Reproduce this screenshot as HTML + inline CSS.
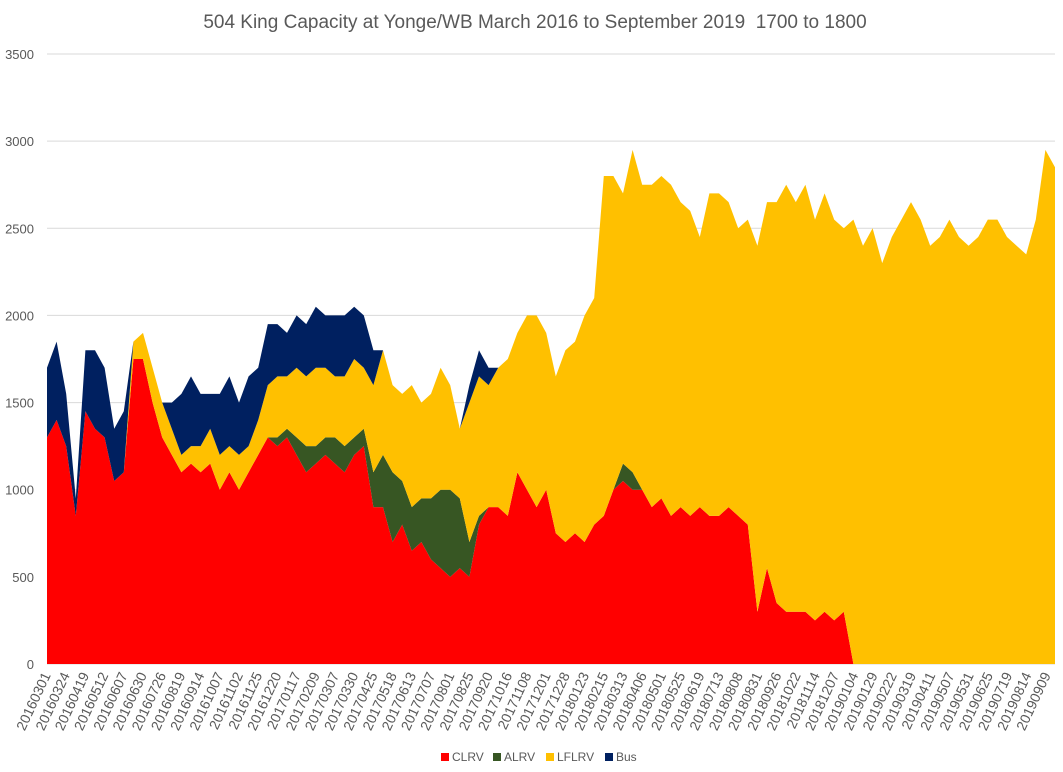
<!DOCTYPE html>
<html><head><meta charset="utf-8"><style>
body{margin:0;background:#fff;font-family:"Liberation Sans",Calibri,sans-serif}
svg{display:block}
</style></head><body>
<svg id="chart" width="1063" height="772" xmlns="http://www.w3.org/2000/svg">
<text x="535" y="28" text-anchor="middle" font-size="19" fill="#595959" font-family="Liberation Sans, sans-serif" xml:space="preserve">504 King Capacity at Yonge/WB March 2016 to September 2019  1700 to 1800</text>
<g id="grid"></g><g id="areas"></g><g id="yaxis"></g><g id="xaxis"></g>
<g font-size="12" fill="#595959" font-family="Liberation Sans, sans-serif">
<rect x="441" y="753" width="8" height="8" fill="#ff0000"/><text x="452" y="761">CLRV</text>
<rect x="493" y="753" width="8" height="8" fill="#375623"/><text x="504" y="761">ALRV</text>
<rect x="546" y="753" width="8" height="8" fill="#ffc000"/><text x="557" y="761">LFLRV</text>
<rect x="605" y="753" width="8" height="8" fill="#002060"/><text x="616" y="761">Bus</text>
</g>
</svg>
<script>
const yTicks=[0,500,1000,1500,2000,2500,3000,3500];
const xLabels=["20160301","20160324","20160419","20160512","20160607","20160630","20160726","20160819","20160914","20161007","20161102","20161125","20161220","20170117","20170209","20170307","20170330","20170425","20170518","20170613","20170707","20170801","20170825","20170920","20171016","20171108","20171201","20171228","20180123","20180215","20180313","20180406","20180501","20180525","20180619","20180713","20180808","20180831","20180926","20181022","20181114","20181207","20190104","20190129","20190222","20190319","20190411","20190507","20190531","20190625","20190719","20190814","20190909"];
const clrv=[1300,1400,1250,850,1450,1350,1300,1050,1100,1750,1750,1500,1300,1200,1100,1150,1100,1150,1000,1100,1000,1100,1200,1300,1250,1300,1200,1100,1150,1200,1150,1100,1200,1250,900,900,700,800,650,700,600,550,500,550,500,800,900,900,850,1100,1000,900,1000,750,700,750,700,800,850,1000,1050,1000,1000,900,950,850,900,850,900,850,850,900,850,800,300,550,350,300,300,300,250,300,250,300,0,0,0,0,0,0,0,0,0,0,0,0,0,0,0,0,0,0,0,0,0,0];
const alrv=[0,0,0,0,0,0,0,0,0,0,0,0,0,0,0,0,0,0,0,0,0,0,0,0,50,50,100,150,100,100,150,150,100,100,200,300,400,250,250,250,350,450,500,400,200,50,0,0,0,0,0,0,0,0,0,0,0,0,0,0,100,100,0,0,0,0,0,0,0,0,0,0,0,0,0,0,0,0,0,0,0,0,0,0,0,0,0,0,0,0,0,0,0,0,0,0,0,0,0,0,0,0,0,0,0,0];
const lflrv=[0,0,0,0,0,0,0,0,0,100,150,200,200,150,100,100,150,200,200,150,200,150,200,300,350,300,400,400,450,400,350,400,450,350,500,600,500,500,700,550,600,700,600,400,800,800,700,800,900,800,1000,1100,900,900,1100,1100,1300,1300,1950,1800,1550,1850,1750,1850,1850,1900,1750,1750,1550,1850,1850,1750,1650,1750,2100,2100,2300,2450,2350,2450,2300,2400,2300,2200,2550,2400,2500,2300,2450,2550,2650,2550,2400,2450,2550,2450,2400,2450,2550,2550,2450,2400,2350,2550,2950,2850];
const bus=[400,450,300,100,350,450,400,300,350,0,0,0,0,150,350,400,300,200,350,400,300,400,300,350,300,250,300,300,350,300,350,350,300,300,200,0,0,0,0,0,0,0,0,0,100,150,100,0,0,0,0,0,0,0,0,0,0,0,0,0,0,0,0,0,0,0,0,0,0,0,0,0,0,0,0,0,0,0,0,0,0,0,0,0,0,0,0,0,0,0,0,0,0,0,0,0,0,0,0,0,0,0,0,0,0,0];

const NS="http://www.w3.org/2000/svg";
const X0=47,X1=1055,Y0=664,Y1=54,VMAX=3500;
const yScale=v=>Y0-(v/VMAX)*(Y0-Y1);
const n=clrv.length;
const xScale=i=>X0+i*(X1-X0)/(n-1);
const grid=document.getElementById('grid'),yaxis=document.getElementById('yaxis'),xaxis=document.getElementById('xaxis'),areas=document.getElementById('areas');
yTicks.forEach(t=>{
  const l=document.createElementNS(NS,'line');
  
  
  l.setAttribute('x1',X0);l.setAttribute('x2',X1);l.setAttribute('y1',yScale(t));l.setAttribute('y2',yScale(t));
  l.setAttribute('stroke','#d9d9d9');l.setAttribute('stroke-width','1');
  grid.appendChild(l);
  const tx=document.createElementNS(NS,'text');
  
  
  tx.setAttribute('x',34);tx.setAttribute('y',yScale(t)+5);tx.setAttribute('text-anchor','end');
  tx.setAttribute('font-size','13');tx.setAttribute('fill','#595959');
  tx.textContent=t;yaxis.appendChild(tx);
});
const lx0=51,lx1=1051;
xLabels.forEach((s,k)=>{
  const x=lx0+k*(lx1-lx0)/(xLabels.length-1);
  const tx=document.createElementNS(NS,'text');
  
  
  tx.setAttribute('transform','translate('+x+',675) rotate(-65)');
  tx.setAttribute('text-anchor','end');tx.setAttribute('font-size','14');tx.setAttribute('fill','#595959');
  tx.textContent=s;xaxis.appendChild(tx);
});
const series=[[clrv,'#ff0000','area-clrv'],[alrv,'#375623','area-alrv'],[lflrv,'#ffc000','area-lflrv'],[bus,'#002060','area-bus']];
let base=new Array(n).fill(0);
series.forEach(([arr,col,name])=>{
  const top=base.map((b,i)=>b+arr[i]);
  let d='M'+xScale(0)+','+yScale(top[0]);
  for(let i=1;i<n;i++)d+=' L'+xScale(i)+','+yScale(top[i]);
  for(let i=n-1;i>=0;i--)d+=' L'+xScale(i)+','+yScale(base[i]);
  d+='Z';
  const p=document.createElementNS(NS,'path');
  
  
  p.setAttribute('d',d);p.setAttribute('fill',col);
  areas.appendChild(p);
  base=top;
});
</script>
</body></html>
